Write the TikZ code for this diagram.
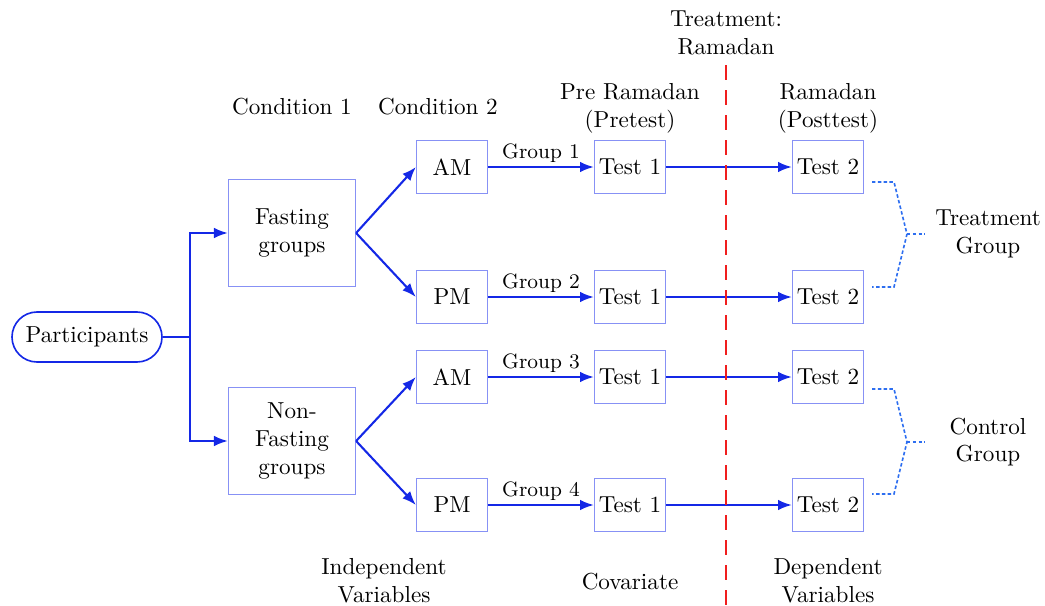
\documentclass[tikz,border=0pt]{standalone}
\usepackage{tikz}
\usetikzlibrary{positioning, calc, arrows.meta}

\definecolor{boxblue}{RGB}{135,145,245}
\definecolor{arrowblue}{RGB}{20,40,230}
\definecolor{dotblue}{RGB}{45,110,240}
\definecolor{treatred}{RGB}{240,30,30}

\tikzset{
  box/.style={draw=boxblue, line width=0.5pt, minimum width=30.7pt, minimum height=22.9pt, inner sep=0pt},
  bigbox/.style={box, minimum width=54.9pt, minimum height=46.2pt, align=center},
  start/.style={draw=arrowblue, line width=0.7pt, rounded corners=10.8pt, minimum width=64.8pt, minimum height=21.6pt, inner sep=0pt},
  flow/.style={-{Latex[length=6pt,width=4.6pt]}, draw=arrowblue, line width=0.9pt},
  flowline/.style={draw=arrowblue, line width=0.9pt},
  brace/.style={draw=dotblue, line width=0.7pt, dash pattern=on 1.5pt off 1pt},
  treat/.style={draw=treatred, line width=1.1pt, dash pattern=on 6.5pt off 4.3pt},
  head/.style={align=center}
}

\begin{document}
\begin{tikzpicture}[x=0.432pt, y=-0.432pt]
	\useasboundingbox (0,0) rectangle (1045,605);
	
	% headers
	\node (cond1) at (292,107) {Condition 1};
	\node (cond2) at (438,107) {Condition 2};
	\node[head] (pre) at (630,108) {Pre Ramadan\\(Pretest)};
	\node[head] (post) at (828,108) {Ramadan\\(Posttest)};
	\node[head] (ramadan) at (726,33) {Treatment:\\Ramadan};
	
	% left part
	\node[start] (part) at (87,337) {Participants};
	\node[bigbox] (fast) at (292,233) {Fasting\\groups};
	\node[bigbox] (nonfast) at (292,441) {Non-\\Fasting\\groups};
	
	\coordinate (split) at (190,337);
	\draw[flowline] (part.east) -- (split);
	\draw[flow] (split) |- (fast.west);
	\draw[flow] (split) |- (nonfast.west);
	
	% the four groups
	\foreach \i/\y/\lab in {1/167/AM, 2/297/PM, 3/377/AM, 4/505/PM} {
		\node[box] (c\i) at (452,\y) {\lab};
		\node[box] (t\i) at (630,\y) {Test 1};
		\node[box] (p\i) at (828,\y) {Test 2};
		\draw[flow] (c\i) -- node[above, font=\small, inner sep=1.5pt] {Group \i} (t\i);
		\draw[flow] (t\i) -- (p\i);
	}
	
	\draw[flow] (fast.east) -- (c1.west);
	\draw[flow] (fast.east) -- (c2.west);
	\draw[flow] (nonfast.east) -- (c3.west);
	\draw[flow] (nonfast.east) -- (c4.west);
	
	% treatment line
	\coordinate (rtop) at (726,65);
	\coordinate (rbot) at (726,605);
	\draw[treat] (rtop) -- (rbot);
	
	% brackets
	\coordinate (tg) at (925,234);
	\coordinate (cg) at (925,442);
	\draw[brace] (872,182) -- (894,182) -- (907,234) -- (894,287) -- (872,287);
	\draw[brace] (907,234) -- (tg);
	\draw[brace] (872,389) -- (894,389) -- (907,442) -- (894,494) -- (872,494);
	\draw[brace] (907,442) -- (cg);
	\node[head] (tgroup) at (988,234) {Treatment\\Group};
	\node[head] (cgroup) at (988,442) {Control\\Group};
	
	% bottom
	\node[head] (indep) at (384,581) {Independent\\Variables};
	\node (cov) at (630,582) {Covariate};
	\node[head] (dep) at (828,581) {Dependent\\Variables};
\end{tikzpicture}
\end{document}
